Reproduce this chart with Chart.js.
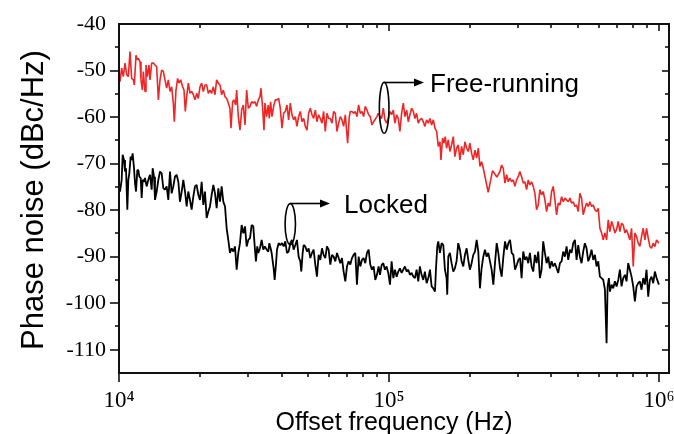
<!DOCTYPE html>
<html>
<head>
<meta charset="utf-8">
<script src="https://cdn.jsdelivr.net/npm/chart.js@4.4.1/dist/chart.umd.min.js"></script>
<style>
  html, body { margin: 0; padding: 0; background: #fff; }
  #wrap { width: 674px; height: 434px; position: relative; }
</style>
</head>
<body>
<div id="wrap"><canvas id="c" width="674" height="434"></canvas></div>
<script>
// ---- data (offset frequency in Hz, phase noise in dBc/Hz) ----
const seriesNames = ['Free-running', 'Locked'];

const freeFreq = [
  10000,10086,10230,10375,10525,10676,10829,10983,11140,11300,
  11397,11560,11693,11793,11962,12064,12202,12306,12483,12589,
  12733,12916,13026,13213,13403,13594,13790,13988,14188,14388,
  14595,14804,15014,15230,15449,15670,15893,16029,16259,16493,
  16680,16920,17212,17408,17607,17808,18064,18323,18582,18848,
  19119,19394,19669,19953,20239,20526,20821,21121,21425,21727,
  22039,22356,22677,22998,23330,23665,24000,24345,24695,25050,
  25404,25768,25989,26363,26662,27046,27278,27670,28062,28465,
  28875,29291,29705,30130,
  30570,31000,31440,31890,32350,32810,33280,33570,34050,34440,
  34730,35230,35730,36040,36450,36870,37400,37930,38480,39030,
  39580,40150,40730,41300,41900,42500,43110,43720,44350,44990,
  45630,46280,46950,47620,48310,48990,49700,50410,51120,51860,
  52600,53360,54110,54890,55680,56480,57280,58100,58930,59770,
  60640,61510,62390,63290,64190,65120,66050,66980,67940,68920,
  70300,71310,71920,72950,73980,75040,76110,77210,78300,79430,
  80570,81710,82890,84080,85290,86490,87740,90270,
  91300,92630,93940,95280,96650,98040,99430,100900,102300,103800,
  105200,106800,108300,109800,111400,113000,114600,116300,117900,119600,
  121300,123100,124800,126600,128400,130200,132100,134000,135900,137900,
  139900,141900,143900,146000,148100,150200,
  152300,154500,155800,158000,159800,161600,163500,165800,168200,170600,
  173100,175500,178000,180600,183200,185800,188500,191200,194000,196700,
  199500,202400,205300,208300,211300,214300,217300,220400,223600,
  233200,242000,251000,
  257700,261400,265100,268900,272800,276700,280600,284600,288700,292800,
  297000,301300,305600,310000,314400,318900,323500,328100,332800,337600,
  342400,347300,352200,357300,362400,367600,372800,378200,383700,389100,
  394700,400400,406100,411900,417800,423800,429900,436000,442300,448600,
  455000,461500,468200,474800,481600,488500,495500,502500,509700,517000,
  524400,531900,539500,547300,555100,563000,571100,579400,587600,596100,
  604600,613300,622000,631000,640000,649100,658400,667900,677400,687100,
  696900,706900,717000,727200,737600,748200,758900,769700,780800,792000,
  803300,814800,826500,838400,850200,862400,874800,887200,900000,912900,
  926000,939100,952800,966400,980400,1000000];
const freeNoise = [
  -51.3,-52.4,-49.5,-51.3,-48.4,-50.9,-51.3,-45.9,-51.7,-52.0,
  -53.1,-46.7,-47.7,-47.4,-48.1,-52.0,-54.2,-50.2,-54.5,-48.8,
  -51.3,-48.8,-52.0,-48.4,-48.4,-48.8,-49.2,-56.3,-52.0,-49.9,
  -50.2,-52.0,-53.8,-52.0,-54.5,-53.5,-57.0,-61.0,-54.2,-51.7,
  -52.7,-52.0,-53.5,-54.2,-58.8,-55.6,-52.7,-54.9,-54.5,-55.2,
  -56.3,-54.9,-56.0,-53.5,-52.7,-54.5,-53.1,-53.1,-54.9,-54.2,
  -54.9,-53.5,-55.2,-52.0,-52.7,-53.1,-55.2,-54.2,-55.6,-56.0,
  -57.0,-58.1,-62.4,-56.7,-56.3,-57.4,-54.2,-59.9,-62.8,-58.5,
  -57.4,-61.7,-54.2,-58.1,
  -57.7,-56.7,-57.0,-56.7,-57.7,-56.3,-55.6,-53.8,-58.1,-62.8,
  -57.0,-59.9,-57.4,-60.3,-56.7,-59.9,-57.7,-56.3,-56.3,-56.0,
  -58.1,-62.4,-59.2,-58.8,-57.4,-60.6,-57.0,-59.5,-60.6,-59.9,
  -62.0,-59.9,-58.8,-61.0,-60.3,-62.0,-62.8,-59.2,-58.1,-59.5,
  -60.3,-58.5,-61.0,-59.5,-60.3,-61.3,-58.8,-63.1,-59.2,-60.3,
  -60.3,-61.3,-58.8,-59.2,-63.1,-61.3,-59.9,-60.6,-62.0,-59.5,
  -65.6,-59.9,-58.8,-58.8,-59.2,-58.8,-59.9,-57.4,-59.2,-58.8,
  -59.9,-57.7,-58.5,-59.5,-59.9,-61.7,-61.0,-59.9,
  -59.2,-59.9,-60.3,-58.1,-60.6,-61.3,-60.3,-58.8,-59.5,-58.5,
  -61.3,-59.5,-60.3,-63.1,-59.2,-57.0,-59.9,-58.5,-61.0,-59.5,
  -58.1,-58.8,-60.3,-59.2,-61.3,-60.6,-60.3,-61.0,-62.0,-60.6,
  -61.3,-60.3,-61.7,-60.6,-62.4,-63.1,
  -66.3,-65.3,-69.2,-64.5,-65.6,-64.2,-66.7,-64.9,-67.4,-66.0,
  -64.2,-68.5,-66.7,-66.0,-69.2,-66.3,-68.1,-65.3,-66.7,-67.4,
  -65.6,-67.8,-69.2,-67.1,-68.8,-66.7,-70.6,-69.6,-71.0,
  -76.2,-71.5,-72.9,
  -71.7,-70.3,-71.0,-74.2,-72.4,-73.9,-73.1,-73.9,-73.5,-74.9,
  -73.5,-72.8,-71.7,-72.8,-74.2,-73.9,-75.6,-73.5,-74.6,-73.9,
  -74.9,-76.4,-79.9,-78.9,-75.6,-76.7,-76.0,-77.8,-80.3,-78.5,
  -79.2,-76.0,-74.9,-77.8,-81.0,-78.5,-78.9,-77.1,-78.2,-77.4,
  -77.8,-78.2,-77.4,-78.5,-78.2,-79.2,-78.9,-80.3,-76.4,-77.4,
  -81.0,-79.6,-78.5,-79.2,-78.2,-79.2,-78.9,-79.9,-80.3,-79.6,
  -83.9,-84.9,-86.4,-84.9,-86.4,-82.1,-84.6,-82.4,-83.5,-84.9,
  -84.2,-82.4,-84.6,-82.8,-83.2,-84.9,-84.2,-85.3,-86.4,-83.9,
  -92.1,-84.9,-85.7,-87.1,-87.8,-85.7,-83.9,-86.4,-83.9,-86.0,
  -87.8,-88.2,-87.1,-87.8,-86.4,-87.1];

const lockedFreq = [
  10000,10086,10230,10318,10436,10525,10615,10736,10829,10921,
  11046,11140,11236,11366,11464,11562,11693,11793,11894,12031,
  12133,12239,12378,12483,12660,12842,13026,13213,13327,13480,
  13594,13790,13988,14188,14388,14595,14804,15014,15230,15449,
  15670,15893,16120,16350,16590,16820,17070,17310,17560,17810,
  18060,18320,18580,18850,19120,19390,19670,19950,20240,20530,
  20820,21120,21430,21730,22040,22360,22680,23000,23330,23670,
  24000,24350,24700,25050,25400,25770,26140,26510,26890,27280,
  27670,28060,28470,28880,29290,29710,30130,
  30570,31000,31440,31890,32160,32520,32810,33280,33760,34240,
  34730,35230,35730,36040,36450,36760,37400,37720,38150,38480,
  39030,39580,40150,40730,41300,41900,42500,43110,43720,44350,
  44990,45630,46280,46950,47350,47900,48310,48990,49700,50410,
  51120,51860,52600,53360,54110,54890,55680,56480,57280,58100,
  58930,59770,60640,61510,62390,63290,64190,65120,66050,66980,
  67940,68920,69910,70910,71920,72950,73980,75040,76110,77210,
  78300,79430,80570,81710,82890,84080,85290,86490,87740,88990,
  90270,91550,
  92630,93940,95280,96650,98040,99430,100900,102300,103800,105200,
  106800,108300,109800,111400,113000,114600,116300,117900,119600,121300,
  123100,124800,126600,128400,130200,132100,134000,135900,137900,139900,
  141900,143900,146000,148100,
  149300,151000,152300,154500,156700,159000,161200,163500,164400,165900,
  168200,170600,173100,175500,178000,180600,183200,185800,188500,191200,
  194000,196700,199500,202400,205300,208300,211300,214300,217300,220400,
  223600,226800,230100,233400,236700,240100,243600,247100,250700,254200,
  257900,261600,265400,269200,273100,277000,280900,284900,289000,293200,
  297400,301700,306000,
  310000,314400,318900,323500,328100,332800,337600,342400,347300,352200,
  357300,362400,367600,372800,378200,383700,389100,394700,400400,406100,
  411900,417800,423800,429900,436000,442300,448600,455000,461500,468200,
  474800,481600,488500,495500,502500,509700,517000,524400,531900,539500,
  547300,555100,563000,571100,579400,587600,596100,604600,613300,622000,
  631000,640000,645500,652800,
  658400,667900,677400,687100,696900,706900,717000,727200,737600,748200,
  758900,769700,780800,792000,803300,814800,826500,838400,850200,862400,
  874800,887200,900000,912900,926000,939100,952800,966400,980400,1000000];
const lockedNoise = [
  -74.2,-76.0,-73.5,-68.1,-69.2,-71.7,-71.0,-79.9,-73.5,-72.1,
  -68.5,-69.2,-67.8,-71.0,-74.2,-76.0,-71.4,-71.4,-72.8,-73.1,
  -77.4,-73.5,-73.9,-73.1,-74.9,-73.5,-72.4,-75.6,-71.0,-72.8,
  -77.8,-76.0,-73.5,-71.7,-72.1,-75.3,-75.6,-74.9,-77.8,-71.7,
  -76.4,-74.9,-72.8,-72.4,-73.9,-78.2,-76.0,-73.5,-76.0,-79.2,
  -76.0,-77.8,-79.9,-77.1,-74.9,-74.6,-76.7,-77.8,-73.9,-78.9,
  -76.0,-81.7,-80.3,-79.2,-76.7,-74.6,-76.4,-79.6,-75.3,-78.2,
  -74.9,-78.2,-79.2,-83.9,-86.4,-89.2,-88.2,-88.9,-87.8,-92.8,
  -89.2,-87.1,-83.2,-85.0,-83.5,-87.8,-86.4,
  -86.0,-83.2,-83.5,-88.5,-91.0,-87.8,-89.2,-88.2,-86.4,-88.5,
  -87.8,-88.5,-88.9,-87.1,-88.2,-89.2,-92.5,-95.0,-91.7,-88.5,
  -87.1,-87.5,-87.1,-87.8,-86.7,-89.2,-88.9,-87.1,-86.4,-88.5,
  -87.5,-86.4,-90.0,-91.0,-93.2,-89.2,-87.5,-87.8,-88.9,-88.2,
  -90.3,-89.2,-88.5,-91.7,-94.3,-89.6,-90.7,-88.2,-89.6,-90.3,
  -87.8,-88.5,-91.7,-89.6,-90.0,-91.0,-89.2,-90.3,-91.4,-90.3,
  -93.2,-95.3,-92.1,-91.0,-91.7,-90.3,-89.6,-89.2,-96.0,-90.0,
  -92.1,-90.7,-90.3,-91.4,-89.2,-88.5,-91.7,-92.8,-92.1,-95.0,
  -93.9,-92.1,
  -93.9,-91.8,-91.4,-92.8,-92.1,-93.5,-96.0,-91.0,-94.6,-92.8,
  -94.3,-93.2,-92.5,-93.5,-92.8,-92.1,-93.2,-92.8,-93.9,-93.5,
  -94.3,-94.6,-92.8,-95.3,-92.1,-93.9,-95.0,-93.2,-95.7,-94.6,
  -92.8,-96.4,-96.8,-97.5,
  -92.8,-87.8,-86.7,-89.2,-87.1,-87.5,-92.8,-94.6,-98.2,-90.0,
  -89.2,-91.4,-93.2,-92.5,-91.0,-87.1,-88.5,-91.0,-92.1,-89.6,
  -88.2,-90.7,-92.8,-91.4,-89.6,-88.9,-86.4,-88.9,-96.8,-92.5,
  -90.0,-88.5,-90.0,-89.2,-91.0,-92.8,-96.0,-91.4,-87.1,-89.2,
  -92.5,-94.3,-90.0,-86.7,-88.5,-87.1,-86.4,-89.2,-89.6,-92.8,
  -91.8,-90.7,-90.3,
  -94.6,-88.9,-90.7,-90.0,-91.4,-89.2,-92.1,-93.2,-89.6,-91.4,
  -88.9,-94.6,-92.8,-86.7,-89.2,-91.4,-90.0,-92.5,-91.0,-92.1,
  -91.4,-92.5,-93.5,-91.4,-91.0,-88.9,-90.0,-87.8,-90.7,-88.5,
  -89.2,-87.1,-86.4,-90.7,-87.5,-90.0,-91.4,-88.9,-87.1,-88.2,
  -91.0,-90.0,-88.5,-90.7,-89.6,-92.1,-91.0,-94.3,-94.6,-95.0,
  -97.1,-108.6,-96.4,-94.6,
  -97.5,-96.0,-96.8,-95.3,-96.4,-95.0,-92.8,-96.4,-94.6,-93.9,
  -95.3,-91.4,-92.8,-94.3,-96.4,-99.6,-96.4,-95.7,-95.3,-97.1,
  -94.6,-96.0,-92.8,-98.6,-95.0,-94.3,-95.7,-93.2,-94.6,-96.0];

const xTickValues = [1e4, 1e5, 1e6];
const xTickLabels = ['10\u2074', '10\u2075', '10\u2076'];
const yTickValues = [-110, -100, -90, -80, -70, -60, -50, -40];
const xTitle = 'Offset frequency (Hz)';
const yTitle = 'Phase noise (dBc/Hz)';

// ---- chart ----
const toPts = (xs, ys) => xs.map((f, i) => ({ x: f, y: ys[i] }));

const decor = {
  id: 'decor',
  afterDatasetsDraw(chart) {
    const { ctx, chartArea: a, scales: { x, y } } = chart;
    const seg = (x1, y1, x2, y2) => { ctx.beginPath(); ctx.moveTo(x1, y1); ctx.lineTo(x2, y2); ctx.stroke(); };
    ctx.save();
    ctx.strokeStyle = '#111';
    ctx.lineWidth = 2;
    ctx.strokeRect(a.left, a.top, a.right - a.left, a.bottom - a.top);
    ctx.lineWidth = 1.6;
    // y ticks
    for (let v = y.min + 5; v <= y.max - 1; v += 5) {
      const py = Math.round(y.getPixelForValue(v));
      const major = Math.abs(v % 10) < 0.01;
      seg(a.left - (major ? 9 : 4), py, a.left, py);
      seg(a.right - (major ? 7 : 4), py, a.right, py);
    }
    // x ticks
    for (let d = 1e4; d <= 1e6; d *= 10) {
      for (let m = 1; m <= 9; m++) {
        const f = m * d;
        if (f > x.max) break;
        const px = Math.round(x.getPixelForValue(f));
        const major = m === 1;
        seg(px, a.bottom, px, a.bottom + (major ? 9 : 4));
        seg(px, a.top, px, a.top + (major ? 7 : 4));
      }
    }
    // axis titles
    ctx.fillStyle = '#000';
    ctx.font = '25px "Liberation Sans", Arial, sans-serif';
    ctx.textAlign = 'center';
    ctx.textBaseline = 'alphabetic';
    ctx.fillText(xTitle, (a.left + a.right) / 2, 430);
    ctx.save();
    ctx.translate(43, 200);
    ctx.rotate(-Math.PI / 2);
    ctx.font = '31px "Liberation Sans", Arial, sans-serif';
    ctx.fillText(yTitle, 0, 0);
    ctx.restore();

    // annotations
    ctx.lineWidth = 1.6;
    ctx.strokeStyle = '#000';
    const ann = [
      { f: 9.6e4, v: -58.0, ry: 25.5, rx: 4.8, tip: 424, tx: 430, label: seriesNames[0], ly: 82.5 },
      { f: 4.31e4, v: -83.0, ry: 20.5, rx: 5.2, tip: 330, tx: 344, label: seriesNames[1], ly: 203.5 }
    ];
    ctx.font = '26px "Liberation Sans", Arial, sans-serif';
    ctx.textAlign = 'left';
    for (const an of ann) {
      const cx = x.getPixelForValue(an.f);
      const cy = y.getPixelForValue(an.v);
      ctx.beginPath();
      ctx.ellipse(cx, cy, an.rx, an.ry, 0, 0, Math.PI * 2);
      ctx.stroke();
      const ly = an.ly;
      seg(cx, cy - an.ry, cx, ly);
      seg(cx, ly, an.tip - 9, ly);
      ctx.beginPath();
      ctx.moveTo(an.tip, ly);
      ctx.lineTo(an.tip - 10, ly - 4);
      ctx.lineTo(an.tip - 10, ly + 4);
      ctx.closePath();
      ctx.fillStyle = '#000';
      ctx.fill();
      ctx.fillText(an.label, an.tx, ly + 9);
    }
    ctx.restore();
  }
};

new Chart(document.getElementById('c'), {
  type: 'line',
  data: {
    datasets: [
      { label: seriesNames[0], data: toPts(freeFreq, freeNoise), borderColor: '#ee2626', borderWidth: 1.6, borderJoinStyle: 'bevel', pointRadius: 0, tension: 0, fill: false },
      { label: seriesNames[1], data: toPts(lockedFreq, lockedNoise), borderColor: '#000000', borderWidth: 1.8, borderJoinStyle: 'bevel', pointRadius: 0, tension: 0, fill: false }
    ]
  },
  options: {
    responsive: false,
    animation: false,
    devicePixelRatio: 1,
    layout: { padding: { top: 24, right: 5, left: 0, bottom: 0 } },
    plugins: { legend: { display: false }, tooltip: { enabled: false } },
    scales: {
      x: {
        type: 'logarithmic',
        min: 1e4,
        max: 1.09e6,
        grid: { display: false },
        border: { display: false },
        afterBuildTicks: (s) => { s.ticks = xTickValues.map(v => ({ value: v })); },
        afterFit: (s) => { s.height = 61; s.paddingLeft = 0; s.paddingRight = 0; },
        ticks: {
          autoSkip: false,
          maxRotation: 0,
          padding: 6,
          color: '#000',
          font: { family: '"Liberation Serif", "Times New Roman", serif', size: 23 },
          callback: (v) => { const i = xTickValues.indexOf(v); return i >= 0 ? xTickLabels[i] : ''; }
        }
      },
      y: {
        min: -115,
        max: -40,
        grid: { display: false },
        border: { display: false },
        afterBuildTicks: (s) => { s.ticks = yTickValues.map(v => ({ value: v })); },
        afterFit: (s) => { s.width = 119; s.paddingTop = 0; s.paddingBottom = 0; },
        ticks: {
          padding: 5,
          color: '#000',
          font: { family: '"Liberation Serif", "Times New Roman", serif', size: 22 },
          callback: (v) => String(v)
        }
      }
    }
  },
  plugins: [decor]
});
</script>
</body>
</html>
